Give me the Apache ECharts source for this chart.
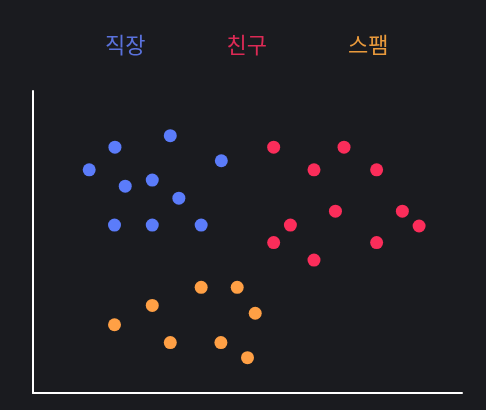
<!DOCTYPE html>
<html>
<head>
<meta charset="utf-8">
<script src="https://cdn.jsdelivr.net/npm/echarts@6/dist/echarts.min.js"></script>
<style>
  html, body { margin: 0; padding: 0; background: #1a1b1f; }
  #chart { width: 486px; height: 410px; }
</style>
</head>
<body>
<div id="chart"></div>
<script>
// 그룹 이름
const groups = ['직장', '친구', '스팸']

// 점 좌표 [x, y] (0~100)
const workPoints = [
  [19.1, 81.4], [32.0, 85.2], [13.1, 73.9], [43.9, 76.9], [21.5, 68.5],
  [27.8, 70.5], [34.0, 64.5], [19.0, 55.6], [27.8, 55.6], [39.2, 55.6]
]
const friendPoints = [
  [56.1, 81.4], [72.5, 81.4], [65.5, 73.9], [80.1, 73.9], [70.5, 60.2],
  [86.1, 60.2], [60.0, 55.6], [90.0, 55.3], [56.1, 49.8], [80.1, 49.8],
  [65.5, 44.0]
]
const spamPoints = [
  [39.2, 35.0], [47.6, 35.0], [27.8, 29.0], [51.8, 26.4], [19.0, 22.6],
  [32.0, 16.7], [43.8, 16.7], [50.0, 11.7]
]

const dotColors = ['#5b7cfa', '#fb2d5a', '#ffa045']
const textColors = ['#5a72dc', '#dc2a55', '#e99a3c']

const chart = echarts.init(document.getElementById('chart'))

const option = {
  backgroundColor: '#1a1b1f',
  animation: false,
  legend: {
    top: 29,
    left: 95,
    icon: 'none',
    itemWidth: 0,
    itemGap: 76,
    selectedMode: false,
    data: groups.map((name, i) => ({
      name,
      textStyle: { color: textColors[i], fontSize: 22, fontFamily: 'Noto Sans CJK KR' }
    }))
  },
  grid: { left: 33, right: 24, top: 91, bottom: 17 },
  xAxis: {
    type: 'value',
    min: 0,
    max: 100,
    axisLine: { show: true, lineStyle: { color: '#ffffff', width: 2 } },
    axisTick: { show: false },
    axisLabel: { show: false },
    splitLine: { show: false }
  },
  yAxis: {
    type: 'value',
    min: 0,
    max: 100,
    axisLine: { show: true, lineStyle: { color: '#ffffff', width: 2 } },
    axisTick: { show: false },
    axisLabel: { show: false },
    splitLine: { show: false }
  },
  series: [workPoints, friendPoints, spamPoints].map((data, i) => ({
    name: groups[i],
    type: 'scatter',
    symbolSize: 13,
    itemStyle: { color: dotColors[i], opacity: 1 },
    data
  }))
}

chart.setOption(option)
</script>
</body>
</html>
